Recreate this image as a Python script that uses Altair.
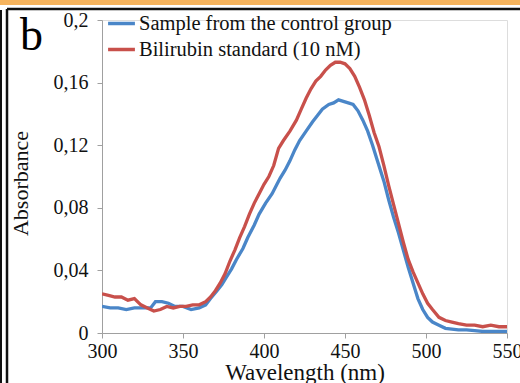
import altair as alt
import pandas as pd

series_names = ["Sample from the control group", "Bilirubin standard (10 nM)"]

blue_wl = [300, 305, 310, 315, 320, 325, 330, 333, 337, 341, 345, 350, 355, 360, 364, 367, 371, 374, 377, 380,
           383, 387, 390, 394, 397, 401, 405, 408, 410, 413, 416, 419, 422, 426, 430, 433, 436, 440, 443, 446,
           449, 452, 455, 458, 461, 464, 467, 470, 474, 477, 480, 483, 486, 489, 492, 495, 498, 501, 504, 508,
           512, 516, 520, 525, 530, 535, 540, 545, 550]
blue_abs = [0.017, 0.016, 0.016, 0.015, 0.016, 0.016, 0.016, 0.020, 0.020, 0.019, 0.017, 0.017, 0.015, 0.016,
            0.018, 0.022, 0.027, 0.031, 0.036, 0.041, 0.047, 0.054, 0.061, 0.069, 0.076, 0.083, 0.089, 0.095,
            0.099, 0.104, 0.110, 0.117, 0.123, 0.129, 0.135, 0.139, 0.143, 0.146, 0.147, 0.149, 0.148, 0.147,
            0.146, 0.142, 0.136, 0.129, 0.120, 0.110, 0.097, 0.085, 0.074, 0.064, 0.053, 0.042, 0.032, 0.022,
            0.015, 0.010, 0.007, 0.005, 0.003, 0.0025, 0.002, 0.002, 0.0015, 0.001, 0.001, 0.001, 0.001]

red_wl = [300, 304, 308, 312, 316, 320, 324, 328, 332, 336, 340, 344, 348, 352, 356, 360, 364, 367, 370, 373,
          376, 379, 382, 385, 388, 391, 394, 397, 400, 403, 406, 409, 412, 416, 420, 423, 426, 429, 432, 435,
          438, 441, 444, 447, 450, 453, 456, 459, 462, 465, 468, 471, 474, 477, 480, 483, 486, 489, 492, 495,
          498, 501, 504, 508, 512, 516, 520, 525, 530, 535, 540, 545, 550]
red_abs = [0.025, 0.024, 0.023, 0.023, 0.021, 0.022, 0.018, 0.016, 0.014, 0.015, 0.017, 0.016, 0.017, 0.017,
           0.018, 0.018, 0.020, 0.023, 0.027, 0.032, 0.038, 0.046, 0.053, 0.061, 0.068, 0.076, 0.083, 0.089,
           0.095, 0.100, 0.107, 0.118, 0.123, 0.129, 0.136, 0.143, 0.150, 0.156, 0.161, 0.164, 0.168, 0.171,
           0.173, 0.173, 0.172, 0.169, 0.164, 0.157, 0.149, 0.139, 0.128, 0.119, 0.107, 0.094, 0.082, 0.070,
           0.058, 0.047, 0.039, 0.032, 0.025, 0.019, 0.015, 0.010, 0.008, 0.007, 0.006, 0.005, 0.005, 0.004,
           0.005, 0.004, 0.004]

x_ticks = [300, 350, 400, 450, 500, 550]
y_ticks = [0, 0.04, 0.08, 0.12, 0.16, 0.2]

df = pd.concat([
    pd.DataFrame({"wl": blue_wl, "abs": blue_abs, "series": series_names[0], "o": 0}),
    pd.DataFrame({"wl": red_wl, "abs": red_abs, "series": series_names[1], "o": 1}),
])

FONT = "Liberation Serif"

lines = alt.Chart(df).mark_line(strokeWidth=3.3, clip=True).encode(
    x=alt.X("wl:Q", scale=alt.Scale(domain=[300, 550], nice=False),
            axis=alt.Axis(values=x_ticks, title="Wavelength (nm)", grid=False, labelFlush=False,
                          labelFontSize=20, titleFontSize=23, labelFont=FONT, titleFont=FONT,
                          labelColor="#111", titleColor="#111", titleFontWeight="normal",
                          domainColor="#a0a0a0", tickColor="#a0a0a0", tickSize=5,
                          labelPadding=3, titlePadding=0, titleY=28)),
    y=alt.Y("abs:Q", scale=alt.Scale(domain=[0, 0.2], nice=False),
            axis=alt.Axis(values=y_ticks, title="Absorbance", grid=False, labelFlush=False,
                          labelExpr="replace(format(datum.value, '.2~f'), '.', ',')",
                          labelFontSize=20, titleFontSize=22, labelFont=FONT, titleFont=FONT,
                          labelColor="#111", titleColor="#111", titleFontWeight="normal",
                          domainColor="#a0a0a0", tickColor="#a0a0a0", tickSize=5,
                          labelPadding=9, titleX=-70, titleY=163)),
    color=alt.Color("series:N",
                    scale=alt.Scale(domain=series_names, range=["#4a86c8", "#c8504b"]),
                    legend=alt.Legend(title=None, orient="none", legendX=4, legendY=-12,
                                      symbolType="stroke", symbolStrokeWidth=3.5, symbolSize=720,
                                      labelFont=FONT, labelFontSize=20.5, labelColor="#111",
                                      rowPadding=-8, labelOffset=2, labelLimit=400)),
    order="o:Q",
    detail="series:N",
)

dummy = pd.DataFrame({"k": [0]})
band = alt.Chart(dummy).mark_rect(color="#f6b45e", clip=False).encode(
    x=alt.value(-102), x2=alt.value(418), y=alt.value(-20), y2=alt.value(-15))
top_line = alt.Chart(dummy).mark_rule(color="#111", strokeWidth=2.5, clip=False).encode(
    x=alt.value(-95), x2=alt.value(418), y=alt.value(-11))
left_line1 = alt.Chart(dummy).mark_rule(color="#111", strokeWidth=2, clip=False).encode(
    x=alt.value(-101), y=alt.value(-10), y2=alt.value(363))
left_line2 = alt.Chart(dummy).mark_rule(color="#111", strokeWidth=2.5, clip=False).encode(
    x=alt.value(-95), y=alt.value(-11), y2=alt.value(363))
letter = alt.Chart(dummy).mark_text(text="b", font=FONT, fontSize=46, color="#000",
                                    align="left", baseline="alphabetic", clip=False).encode(
    x=alt.value(-82), y=alt.value(30))

chart = alt.layer(band, top_line, left_line1, left_line2, lines, letter).properties(
    width=405, height=313,
    autosize=alt.AutoSizeParams(type="none"),
    padding={"left": 102, "top": 20, "right": 13, "bottom": 50},
).configure_view(stroke=None).configure(background="white")

chart.save("out.html", embed_options={"renderer": "svg", "actions": False})
